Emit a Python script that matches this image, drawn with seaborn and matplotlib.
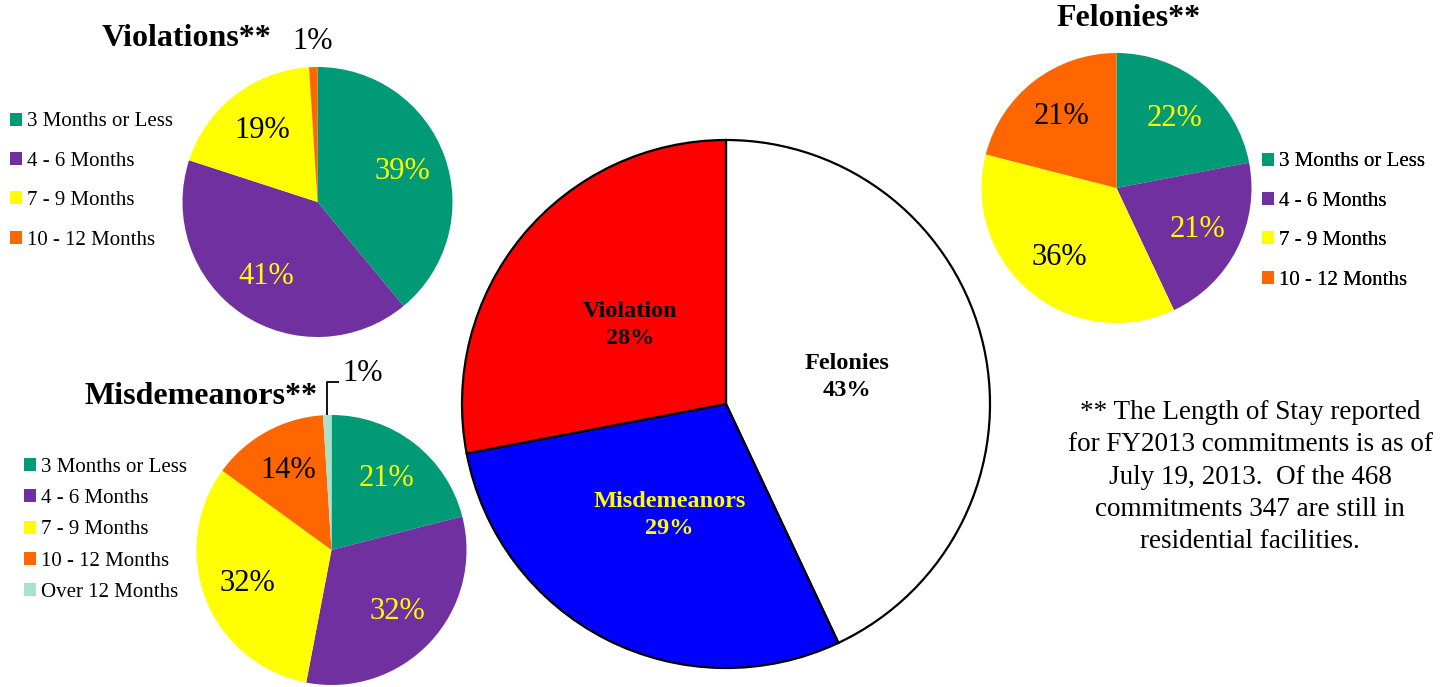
import numpy as np
import matplotlib
matplotlib.use("Agg")
import matplotlib.pyplot as plt
import seaborn as sns

sns.set_theme(style="white")
plt.rcParams["font.family"] = ["Liberation Serif", "DejaVu Serif"]
plt.rcParams["text.color"] = "black"

# ---------------- data ----------------
main_categories = ["Felonies", "Misdemeanors", "Violation"]
main_values = [43, 29, 28]

stay_categories = ["3 Months or Less", "4 - 6 Months", "7 - 9 Months",
                   "10 - 12 Months", "Over 12 Months"]
violations_values = [39, 41, 19, 1]
misdemeanors_values = [21, 32, 32, 14, 1]
felonies_values = [22, 21, 36, 21]

footnote = ("** The Length of Stay reported\nfor FY2013 commitments is as of\n"
            "July 19, 2013.  Of the 468\ncommitments 347 are still in\n"
            "residential facilities.")

# ---------------- style ----------------
main_colors = ["#FFFFFF", "#0000FF", "#FF0000"]
main_text_colors = ["black", "#FFFF00", "black"]
stay_colors = ["#009A76", "#7030A0", "#FFFF00", "#FF6600", "#A9E2CB"]
stay_text_colors = ["#FFFF00", "#FFFF00", "black", "black", "black"]

W, H = 1442, 687
fig = plt.figure(figsize=(W / 100, H / 100), dpi=100)
ax = fig.add_axes([0, 0, 1, 1])


def Y(y):
    return H - y


# ---------------- main pie ----------------
mc = (726, Y(404))
wedges, texts = ax.pie(
    main_values, colors=main_colors, startangle=90, counterclock=False,
    center=mc, radius=264,
    labels=[f"{c}\n{v}%" for c, v in zip(main_categories, main_values)],
    labeldistance=0.47,
    wedgeprops=dict(edgecolor="black", linewidth=1.6),
    textprops=dict(fontsize=17.5, fontweight="bold"),
)
for t, col in zip(texts, main_text_colors):
    t.set_ha("center")
    t.set_va("center")
    t.set_multialignment("center")
    t.set_color(col)
    t.set_linespacing(1.38)


def sub_pie(values, center, title, title_xy, legend_xy, labelspacing,
            small_mode):
    n = len(values)
    w, _, pcts = ax.pie(
        values, colors=stay_colors[:n], startangle=90, counterclock=False,
        center=center, radius=135, autopct="%1.0f%%", pctdistance=0.67,
        wedgeprops=dict(linewidth=0), textprops=dict(fontsize=22),
    )
    for i, (t, col) in enumerate(zip(pcts, stay_text_colors)):
        t.set_color(col)
        if values[i] < 2:
            wd = w[i]
            mid = np.deg2rad((wd.theta1 + wd.theta2) / 2)
            ex = center[0] + 135 * np.cos(mid)
            ey = center[1] + 135 * np.sin(mid)
            if small_mode == "plain":
                t.set_position((center[0] + 1.19 * 135 * np.cos(mid),
                                center[1] + 1.19 * 135 * np.sin(mid)))
            else:
                ly = center[1] + 1.31 * 135
                ax.plot([ex, ex, ex + 12], [ey, ly - 9, ly - 9],
                        color="black", lw=1.3, solid_capstyle="butt")
                t.set_position((ex + 15, ly))
                t.set_ha("left")
    ax.text(title_xy[0], title_xy[1], title, ha="center", va="center",
            fontsize=23, fontweight="bold", color="black")
    leg = ax.legend(
        w, stay_categories[:n], loc="center left",
        bbox_to_anchor=legend_xy, bbox_transform=ax.transData,
        frameon=False, fontsize=15, handlelength=0.58, handleheight=0.58,
        handletextpad=0.22, labelspacing=labelspacing,
        borderpad=0, borderaxespad=0, labelcolor="black",
    )
    ax.add_artist(leg)


sub_pie(violations_values, (317.5, Y(202)), "Violations**", (186, Y(39)),
        (10, Y(181)), 0.98, "plain")
sub_pie(misdemeanors_values, (331.5, Y(550)), "Misdemeanors**", (201, Y(396)),
        (24, Y(530)), 0.59, "leader")
sub_pie(felonies_values, (1116.5, Y(188)), "Felonies**", (1129, Y(18)),
        (1262, Y(221)), 0.98, "plain")

ax.text(1250, Y(477), footnote, ha="center", va="center", fontsize=19.5,
        linespacing=1.39, color="black")

ax.set_xlim(0, W)
ax.set_ylim(0, H)
ax.set_aspect("equal")
ax.axis("off")
fig.savefig("out.png", dpi=100, facecolor="white")
